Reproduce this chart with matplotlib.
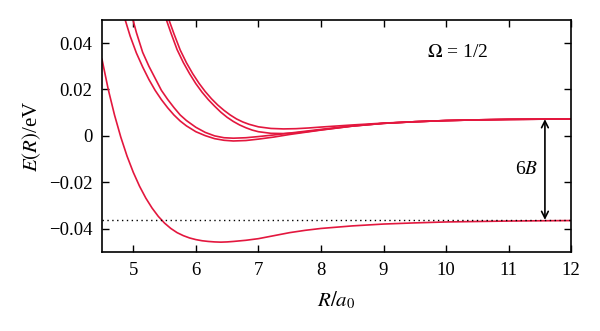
import matplotlib
matplotlib.use("Agg")
import matplotlib.pyplot as plt

plt.rcParams['font.family'] = ['Liberation Serif', 'DejaVu Serif']
plt.rcParams['mathtext.fontset'] = 'stix'

# lowest curve (ground)
r_g = [4.5, 4.6, 4.7, 4.8, 4.9, 5.0, 5.1, 5.2, 5.3, 5.4, 5.5, 5.6, 5.7, 5.8, 5.9,
       6.0, 6.1, 6.2, 6.3, 6.4, 6.5, 6.6, 6.8, 7.0, 7.25, 7.5, 7.75, 8.0, 8.5,
       9.0, 9.5, 10.0, 10.5, 11.0, 11.5, 12.0]
e_g = [0.0330, 0.0200, 0.0090, -0.0005, -0.0087, -0.0157, -0.0217, -0.0268,
       -0.0311, -0.0347, -0.0376, -0.0399, -0.0417, -0.0430, -0.0440, -0.0447,
       -0.0452, -0.0455, -0.0457, -0.0458, -0.0457, -0.0455, -0.0450, -0.0443,
       -0.0430, -0.0417, -0.0407, -0.0399, -0.0388, -0.0380, -0.0375, -0.0371,
       -0.0369, -0.0367, -0.0366, -0.0365]

# upper curves
r_a = [4.85, 4.95, 5.05, 5.15, 5.25, 5.35, 5.45, 5.55, 5.65, 5.75, 5.85, 6.0,
       6.15, 6.3, 6.45, 6.6, 6.8, 7.0, 7.25, 7.5, 8.0, 8.5, 9.0, 9.5, 10.0,
       10.5, 11.0, 11.5, 12.0]
e_a = [0.0518, 0.0430, 0.0357, 0.0297, 0.0243, 0.0196, 0.0156, 0.0121, 0.0090,
       0.0064, 0.0043, 0.0018, 0.0001, -0.0012, -0.0019, -0.0022, -0.0020,
       -0.0014, -0.0005, 0.0006, 0.0025, 0.0042, 0.0054, 0.0061, 0.0066,
       0.0069, 0.0071, 0.0072, 0.0073]

r_b = [4.98, 5.05, 5.15, 5.25, 5.35, 5.45, 5.55, 5.65, 5.75, 5.85, 6.0, 6.15,
       6.3, 6.45, 6.6, 6.8, 7.0, 7.25, 7.5, 8.0, 8.5, 9.0, 9.5, 10.0, 10.5,
       11.0, 11.5, 12.0]
e_b = [0.0515, 0.0445, 0.0360, 0.0300, 0.0248, 0.0196, 0.0157, 0.0122, 0.0090,
       0.0066, 0.0037, 0.0015, 0.0000, -0.0008, -0.0010, -0.0008, -0.0003,
       0.0004, 0.0012, 0.0028, 0.0043, 0.0054, 0.0061, 0.0066, 0.0069, 0.0071,
       0.0072, 0.0073]

r_c = [5.51, 5.6, 5.7, 5.8, 5.9, 6.0, 6.1, 6.2, 6.3, 6.4, 6.5, 6.6, 6.7, 6.8,
       6.9, 7.0, 7.2, 7.4, 7.6, 7.8, 8.0, 8.5, 9.0, 9.5, 10.0, 10.5, 11.0,
       11.5, 12.0]
e_c = [0.0515, 0.0445, 0.0372, 0.0316, 0.0268, 0.0225, 0.0188, 0.0156, 0.0128,
       0.0102, 0.0080, 0.0062, 0.0047, 0.0035, 0.0025, 0.0018, 0.0011, 0.0010,
       0.0013, 0.0019, 0.0026, 0.0042, 0.0054, 0.0061, 0.0066, 0.0069, 0.0071,
       0.0072, 0.0073]

r_d = [5.55, 5.65, 5.75, 5.85, 5.95, 6.05, 6.15, 6.25, 6.35, 6.45, 6.55, 6.65,
       6.75, 6.85, 7.0, 7.2, 7.4, 7.6, 7.8, 8.0, 8.5, 9.0, 9.5, 10.0, 10.5,
       11.0, 11.5, 12.0]
e_d = [0.0515, 0.0440, 0.0370, 0.0315, 0.0268, 0.0227, 0.0191, 0.0160, 0.0133,
       0.0110, 0.0090, 0.0073, 0.0060, 0.0050, 0.0039, 0.0032, 0.0030, 0.0031,
       0.0034, 0.0038, 0.0047, 0.0055, 0.0061, 0.0066, 0.0069, 0.0071, 0.0072,
       0.0073]

e_asym_low = -0.0362
e_asym_high = 0.0072
arrow_r = 11.58

red = '#e3173e'

fig = plt.figure(figsize=(6.0, 3.31), dpi=100)
ax = fig.add_axes([0.17, 0.239, 0.782, 0.701])

for r, e in [(r_g, e_g), (r_a, e_a), (r_b, e_b), (r_c, e_c), (r_d, e_d)]:
    ax.plot(r, e, color=red, lw=1.2)

ax.axhline(e_asym_low, color='black', ls=(0, (1, 2.5)), lw=1.0)
ax.annotate('', xy=(arrow_r, e_asym_low), xytext=(arrow_r, e_asym_high),
            arrowprops=dict(arrowstyle='<->', color='black', lw=1.2,
                            mutation_scale=12, shrinkA=0, shrinkB=0))
ax.text(arrow_r - 0.1, (e_asym_low + e_asym_high) / 2, r'6$B$',
        ha='right', va='center', fontsize=14)
ax.text(9.7, 0.0358, r'$\Omega$ = 1/2', ha='left', va='center', fontsize=14)

ax.set_xlim(4.5, 12)
ax.set_ylim(-0.05, 0.05)
ax.set_xticks([5, 6, 7, 8, 9, 10, 11, 12])
ax.set_yticks([-0.04, -0.02, 0, 0.02, 0.04])
ax.set_yticklabels(['\u22120.04', '\u22120.02', '0', '0.02', '0.04'])
ax.tick_params(direction='in', top=True, right=True, length=5, width=1,
               labelsize=13.5, pad=7)
for s in ax.spines.values():
    s.set_linewidth(1.2)

ax.set_xlabel(r'$R/a_0$', fontsize=15, labelpad=8)
ax.set_ylabel(r'$E(R)$/eV', fontsize=15, labelpad=4)

fig.savefig('out.png', dpi=100)
